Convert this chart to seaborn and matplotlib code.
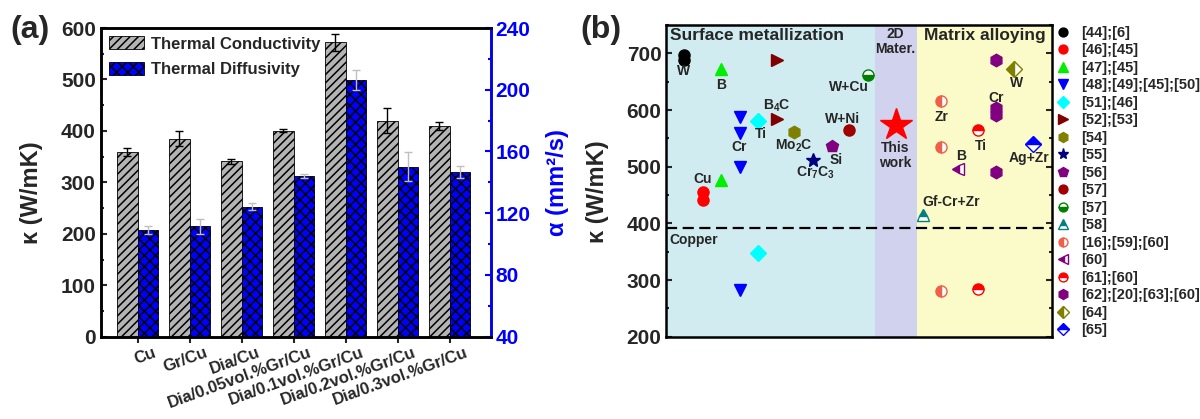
import numpy as np
import pandas as pd
import matplotlib
matplotlib.use("Agg")
import matplotlib.pyplot as plt
import matplotlib.transforms as mtransforms
from matplotlib.patches import Patch
import seaborn as sns

sns.set_style("ticks")
plt.rcParams['font.family'] = ['Liberation Sans', 'DejaVu Sans']
plt.rcParams['font.weight'] = 'bold'
plt.rcParams['axes.labelweight'] = 'bold'
plt.rcParams['mathtext.fontset'] = 'custom'
plt.rcParams['mathtext.rm'] = 'Liberation Sans:bold'
plt.rcParams['mathtext.it'] = 'Liberation Sans:bold'
plt.rcParams['mathtext.bf'] = 'Liberation Sans:bold'
plt.rcParams['mathtext.default'] = 'regular'
plt.rcParams['hatch.linewidth'] = 1.1

# ---------------- data: panel (a) ----------------
categories = ["Cu", "Gr/Cu", "Dia/Cu", "Dia/0.05vol.%Gr/Cu", "Dia/0.1vol.%Gr/Cu",
              "Dia/0.2vol.%Gr/Cu", "Dia/0.3vol.%Gr/Cu"]
conductivity = [359, 385, 341, 400, 572, 420, 409]
conductivity_err = [7, 14, 5, 3, 16, 25, 8]
diffusivity = [109.3, 111.4, 124.3, 144.2, 206.3, 150.2, 146.8]
diffusivity_err = [2.5, 5.0, 2.5, 1.5, 6.3, 9.4, 3.8]
series_names = ["Thermal Conductivity", "Thermal Diffusivity"]

# ---------------- data: panel (b) ----------------
ref_labels = ["[44];[6]", "[46];[45]", "[47];[45]", "[48];[49];[45];[50]", "[51];[46]",
              "[52];[53]", "[54]", "[55]", "[56]", "[57]", "[57]", "[58]",
              "[16];[59];[60]", "[60]", "[61];[60]", "[62];[20];[63];[60]", "[64]", "[65]"]
ref_pos = [4.5, 9.5, 14.2, 19.0, 23.8, 28.8, 33.1, 38.1, 42.9, 47.4, 52.4,
           66.6, 71.3, 75.8, 80.8, 85.5, 90.3, 95.2]
ref_values = [[697, 689], [456, 441], [673, 477], [587, 560, 499, 282], [580, 348],
              [688, 585], [561], [511], [536], [564], [662], [414],
              [616, 534, 281], [496], [564, 285], [688, 604, 592, 491], [672], [540]]
this_work_pos = 59.5
this_work_value = 573
copper_value = 392

point_labels = ["W", "Cu", "B", "Cr", "Ti", "B$_4$C", "Mo$_2$C", "Cr$_7$C$_3$", "Si",
                "W+Ni", "W+Cu", "Gf-Cr+Zr", "Zr", "B", "Ti", "Cr", "W", "Ag+Zr"]
label_pos = [4.5, 9.5, 14.2, 19.0, 24.6, 28.8, 33.1, 38.8, 44.0, 45.8, 47.4,
             74.0, 71.3, 76.4, 81.5, 85.5, 90.8, 94.0]
label_values = [668, 479, 645, 534, 557, 608, 537, 489, 511, 585, 641,
                438, 588, 518, 537, 622, 647, 516]

# styles for panel (b)
marker_styles = [
    dict(marker='o', color='#000000', fillstyle='full', ms=8),
    dict(marker='o', color='#ff0000', fillstyle='full', ms=8),
    dict(marker='^', color='#00ee00', fillstyle='full', ms=9),
    dict(marker='v', color='#0000ff', fillstyle='full', ms=9),
    dict(marker='D', color='#00ffff', fillstyle='full', ms=8),
    dict(marker='>', color='#800000', fillstyle='full', ms=9),
    dict(marker='h', color='#808000', fillstyle='full', ms=9),
    dict(marker='*', color='#000080', fillstyle='full', ms=10),
    dict(marker='p', color='#800080', fillstyle='full', ms=9),
    dict(marker='o', color='#a00000', fillstyle='full', ms=8),
    dict(marker='o', color='#008000', fillstyle='bottom', ms=8),
    dict(marker='^', color='#008080', fillstyle='top', ms=9),
    dict(marker='o', color='#f06048', fillstyle='left', ms=8),
    dict(marker='<', color='#800080', fillstyle='left', ms=9),
    dict(marker='o', color='#ff0000', fillstyle='top', ms=8),
    dict(marker='h', color='#800080', fillstyle='full', ms=9),
    dict(marker='D', color='#808000', fillstyle='left', ms=8),
    dict(marker='D', color='#0000ff', fillstyle='top', ms=8),
]

fig = plt.figure(figsize=(12, 4.19), dpi=100)
W, H = 1200, 419

# ================= panel (a) =================
axa = fig.add_axes([100.7 / W, 1 - 336.7 / H, 390 / W, 308.7 / H])
axa2 = axa.twinx()

df_tc = pd.DataFrame({"cat": categories, "val": conductivity, "series": series_names[0]})
df_td = pd.DataFrame({"cat": categories, "val": diffusivity, "series": series_names[1]})
pal = {series_names[0]: "#b4b4b4", series_names[1]: "#0000ff"}

sns.barplot(data=df_tc, x="cat", y="val", hue="series", hue_order=series_names,
            order=categories, palette=pal, dodge=True, width=0.8, errorbar=None,
            legend=False, ax=axa, hatch='////', edgecolor='black', linewidth=0.6,
            saturation=1)
sns.barplot(data=df_td, x="cat", y="val", hue="series", hue_order=series_names,
            order=categories, palette=pal, dodge=True, width=0.8, errorbar=None,
            legend=False, ax=axa2, hatch='xxx', edgecolor='black', linewidth=0.6,
            saturation=1)

xs_tc = [p.get_x() + p.get_width() / 2 for p in axa.patches][:len(categories)]
xs_td = [p.get_x() + p.get_width() / 2 for p in axa2.patches][:len(categories)]
axa.errorbar(xs_tc, conductivity, yerr=conductivity_err, fmt='none', ecolor='black',
             elinewidth=1.0, capsize=3, capthick=1.0, zorder=5)
axa2.errorbar(xs_td, diffusivity, yerr=diffusivity_err, fmt='none', ecolor='#c0c0c0',
              elinewidth=1.0, capsize=3, capthick=1.0, zorder=5)

axa.set_ylim(0, 600)
axa2.set_ylim(40, 240)
axa.set_xlim(-0.71, 6.79)
axa.set_yticks(np.arange(0, 601, 100))
axa.set_yticks(np.arange(50, 600, 100), minor=True)
axa2.set_yticks(np.arange(40, 241, 40))
axa2.set_yticks(np.arange(60, 240, 40), minor=True)
axa.set_xlabel("")
axa2.set_xlabel("")
axa.set_ylabel("κ (W/mK)", fontsize=17, fontweight='bold')
axa2.set_ylabel("α (mm²/s)", fontsize=17, fontweight='bold', color='#0000ff',
                labelpad=11)
axa.yaxis.set_label_coords(-0.148, 0.465)

axa.tick_params(axis='y', which='major', direction='in', length=4, width=1.5,
                labelsize=15)
axa.tick_params(axis='y', which='minor', direction='in', length=2.5, width=1.5)
axa2.tick_params(axis='y', which='major', direction='in', length=4, width=1.5,
                 labelsize=15, colors='#0000ff')
axa2.tick_params(axis='y', which='minor', direction='in', length=2.5, width=1.5,
                 colors='#0000ff')
axa.tick_params(axis='x', direction='out', length=4, width=1.5, labelsize=12, pad=2)
axa2.tick_params(axis='x', length=0)
for lab in axa.get_yticklabels() + axa2.get_yticklabels():
    lab.set_fontweight('bold')

axa.set_xticks(range(len(categories)))
axa.set_xticklabels(categories, rotation=20, ha='right', rotation_mode='anchor',
                    fontweight='bold')
offset = mtransforms.ScaledTranslation(0.15, 0, fig.dpi_scale_trans)
for lab in axa.get_xticklabels():
    lab.set_transform(lab.get_transform() + offset)

for ax in (axa, axa2):
    for s in ax.spines.values():
        s.set_linewidth(1.8)
        s.set_color('black')
axa2.spines['right'].set_color('#0000ff')

handles = [Patch(facecolor="#b4b4b4", edgecolor='black', hatch='////', linewidth=0.6),
           Patch(facecolor="#0000ff", edgecolor='black', hatch='xxx', linewidth=0.6)]
leg = axa2.legend(handles, series_names, loc='upper left', bbox_to_anchor=(0, 1),
                  frameon=False, fontsize=12, handlelength=2.1, handleheight=0.8,
                  labelspacing=0.62, handletextpad=0.4, borderaxespad=0.2,
                  borderpad=0.3)
for t in leg.get_texts():
    t.set_fontweight('bold')

fig.text(10 / W, 1 - 30 / H, "(a)", fontsize=23, fontweight='bold', va='center',
         ha='left')

# ================= panel (b) =================
axb = fig.add_axes([666.3 / W, 1 - 336.7 / H, 385.4 / W, 311.7 / H])
axb.set_xlim(0, 100)
axb.set_ylim(200, 750)
axb.axvspan(0, 54.1, color='#d0ecf1', zorder=0, lw=0)
axb.axvspan(54.1, 65.1, color='#d0d2ee', zorder=0, lw=0)
axb.axvspan(65.1, 100, color='#fbfbc9', zorder=0, lw=0)
axb.axhline(copper_value, color='black', lw=1.6, ls=(0, (5, 2.5)), zorder=2)

line_handles = []
for lab, xpos, vals, st in zip(ref_labels, ref_pos, ref_values, marker_styles):
    ln, = axb.plot([xpos] * len(vals), vals, linestyle='none', marker=st['marker'],
                   markersize=st['ms'], color=st['color'], markerfacecolor=st['color'],
                   markeredgecolor=st['color'], fillstyle=st['fillstyle'],
                   markerfacecoloralt='white', markeredgewidth=1.0, zorder=4,
                   label=lab)
    line_handles.append(ln)

axb.plot([this_work_pos], [this_work_value], linestyle='none', marker='*',
         markersize=24, color='#ff0000', zorder=5)

for t, xp, yv in zip(point_labels, label_pos, label_values):
    axb.text(xp, yv, t, fontsize=10, fontweight='bold', ha='center', va='center',
             zorder=6)
axb.text(this_work_pos, 519, "This\nwork", fontsize=10, fontweight='bold',
         ha='center', va='center', linespacing=1.1)
axb.text(this_work_pos, 721, "2D\nMater.", fontsize=10, fontweight='bold',
         ha='center', va='center', linespacing=1.1)
axb.text(0.9, 730.6, "Surface metallization", fontsize=12.5, fontweight='bold',
         ha='left', va='center')
axb.text(82.7, 730.6, "Matrix alloying", fontsize=12.5, fontweight='bold',
         ha='center', va='center')
axb.text(0.9, 371, "Copper", fontsize=10, fontweight='bold', ha='left', va='center')

axb.set_xticks([])
axb.set_yticks(np.arange(200, 701, 100))
axb.set_yticks(np.arange(250, 751, 100), minor=True)
axb.tick_params(axis='y', which='major', direction='in', length=4, width=1.5,
                labelsize=15, right=True)
axb.tick_params(axis='y', which='minor', direction='in', length=2.5, width=1.5,
                right=True)
for lab in axb.get_yticklabels():
    lab.set_fontweight('bold')
axb.set_ylabel("κ (W/mK)", fontsize=17, fontweight='bold')
axb.yaxis.set_label_coords(-0.148, 0.465)
for s in axb.spines.values():
    s.set_linewidth(1.8)
    s.set_color('black')

legb = axb.legend(handles=line_handles, loc='upper left', bbox_to_anchor=(1.0, 1.012),
                  frameon=False, fontsize=10.5, handlelength=1.0, handletextpad=0.75,
                  labelspacing=0.24, borderaxespad=0, borderpad=0.3, numpoints=1,
                  markerscale=0.8)
for t in legb.get_texts():
    t.set_fontweight('bold')

fig.text(580 / W, 1 - 30 / H, "(b)", fontsize=23, fontweight='bold', va='center',
         ha='left')

fig.savefig("out.png", dpi=100)
